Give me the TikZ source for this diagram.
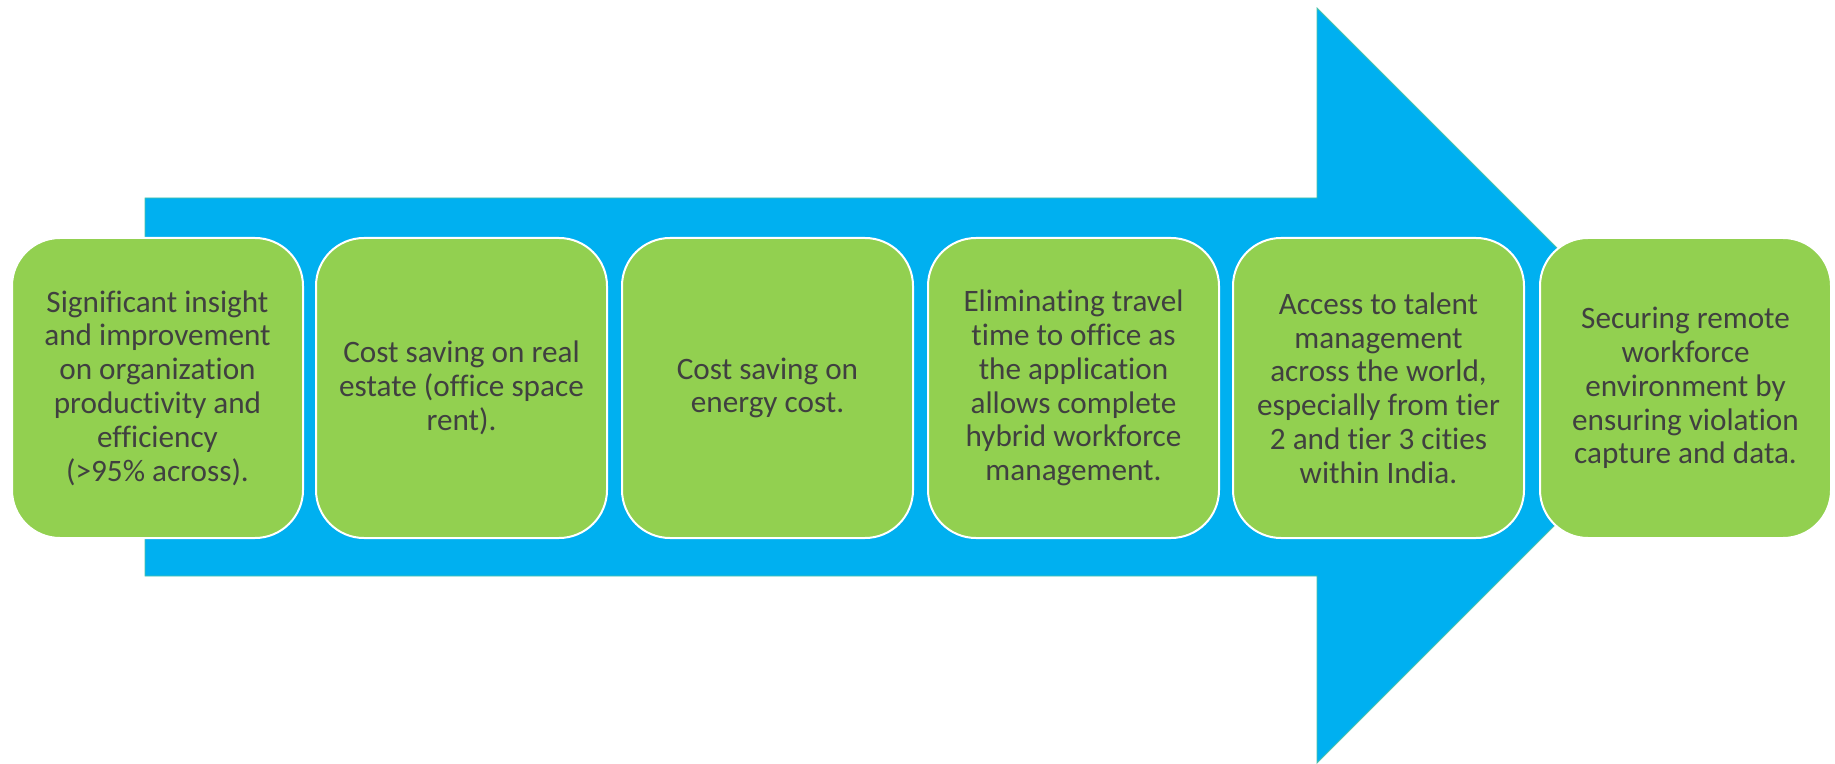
\documentclass[tikz,border=0pt]{standalone}
\usepackage{fontspec}
\setmainfont{Carlito}[Ligatures=NoCommon]
\definecolor{arrowblue}{HTML}{00B0F0}
\definecolor{arrowedge}{HTML}{4CC3A8}
\definecolor{boxgreen}{HTML}{92D050}
\definecolor{txtgray}{HTML}{404040}
\begin{document}
\begin{tikzpicture}[x=0.5pt,y=-0.5pt,
  stepbox/.style={draw=white, line width=1pt, fill=boxgreen, rounded corners=24pt,
    minimum width=145.5pt, minimum height=150pt, inner sep=0pt, align=center,
    text=txtgray, font=\fontsize{15.6}{16.9}\selectfont, anchor=north west}]
\useasboundingbox (0,0) rectangle (1835,764);
\fill[white] (0,0) rectangle (1835,764);
% big arrow
\filldraw[fill=arrowblue, draw=arrowedge, line width=0.4pt]
  (145,198) -- (1317,198) -- (1317,8) -- (1694.5,385.5) -- (1317,763) -- (1317,576) -- (145,576) -- cycle;
% boxes
\node[stepbox] (b1) at (11,237) {Significant insight\\and improvement\\on organization\\productivity and\\efficiency\\(>95\% across).};
\node[stepbox] (b2) at (315,237) {Cost saving on real\\estate (office space\\rent).};
\node[stepbox] (b3) at (621,237) {Cost saving on\\energy cost.};
\node[stepbox] (b4) at (927,237) {Eliminating travel\\time to office as\\the application\\allows complete\\hybrid workforce\\management.};
\node[stepbox] (b5) at (1232,237) {Access to talent\\management\\across the world,\\especially from tier\\2 and tier 3 cities\\within India.};
\node[stepbox] (b6) at (1539,237) {Securing remote\\workforce\\environment by\\ensuring violation\\capture and data.};
\end{tikzpicture}
\end{document}
